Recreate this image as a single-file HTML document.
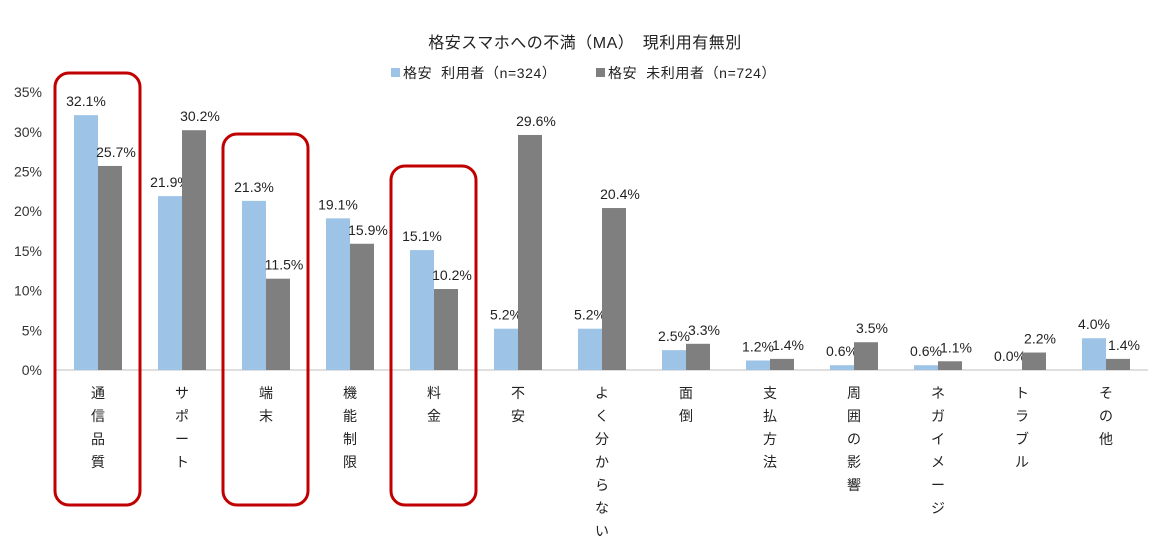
<!DOCTYPE html>
<html><head><meta charset="utf-8"><style>
body{margin:0;background:#fff;}
svg{display:block;font-family:"Liberation Sans","Noto Sans CJK JP",sans-serif;}
</style></head><body>
<svg id="c" width="1170" height="542">
<text x="585" y="48" text-anchor="middle" font-size="16" fill="#222" letter-spacing="0.5">格安スマホへの不満（MA）　現利用有無別</text>
<g>
<rect x="391" y="68" width="9" height="9" fill="#9dc3e6"/>
<text x="403" y="78" font-size="14" fill="#222" letter-spacing="0.6" xml:space="preserve">格安  利用者（n=324）</text>
<rect x="596" y="68" width="9" height="9" fill="#7f7f7f"/>
<text x="608" y="78" font-size="14" fill="#222" letter-spacing="0.6" xml:space="preserve">格安  未利用者（n=724）</text>
</g>
<g id="plot"></g>
</svg>
<script>
const categories=["通信品質","サポート","端末","機能制限","料金","不安","よく分からない","面倒","支払方法","周囲の影響","ネガイメージ","トラブル","その他"];
const usersVals=[32.1,21.9,21.3,19.1,15.1,5.2,5.2,2.5,1.2,0.6,0.6,0.0,4.0];
const nonUsersVals=[25.7,30.2,11.5,15.9,10.2,29.6,20.4,3.3,1.4,3.5,1.1,2.2,1.4];
const yTicks=[0,5,10,15,20,25,30,35];
const highlighted=[0,2,4];
const NS="http://www.w3.org/2000/svg";
const g=document.getElementById('plot');
const y0=370,k=7.94,x0=56,step=84,bw=24;
const yPos=v=>y0-v*k;
const xCenter=i=>x0+step/2+i*step;
function el(t,a){const e=document.createElementNS(NS,t);for(const n in a)e.setAttribute(n,a[n]);g.appendChild(e);return e;}
yTicks.forEach(t=>{const e=el('text',{x:42,y:yPos(t)+5,'text-anchor':'end','font-size':14,fill:'#333'});e.textContent=t+'%';

});
const ax=el('line',{x1:x0,x2:1148,y1:y0,y2:y0,stroke:'#bfbfbf'});


categories.forEach((c,i)=>{
 const cx=xCenter(i);
 [[usersVals[i],'#9dc3e6',cx-bw,'users'],[nonUsersVals[i],'#7f7f7f',cx,'nonusers']].forEach(([v,col,x,s])=>{
  const r=el('rect',{x:x,y:yPos(v),width:bw,height:v*k,fill:col});
  
  
  const t=el('text',{x:x+bw/2+(s==='nonusers'?6:0),y:yPos(v)-9,'text-anchor':'middle','font-size':14,fill:'#222'});
  t.textContent=v.toFixed(1)+'%';
  
  
 });
 [...c].forEach((ch,j)=>{const t=el('text',{x:cx,y:398+j*23,'text-anchor':'middle','font-size':14,fill:'#222'});t.textContent=ch;
 
 });
});
const hlTop=[73,134,166];
highlighted.forEach((i,n)=>{const cx=xCenter(i);
 const r=el('rect',{x:cx-43,y:hlTop[n],width:85,height:505-hlTop[n],rx:14,fill:'none',stroke:'#c00000','stroke-width':3});
 
 });
</script>
</body></html>
